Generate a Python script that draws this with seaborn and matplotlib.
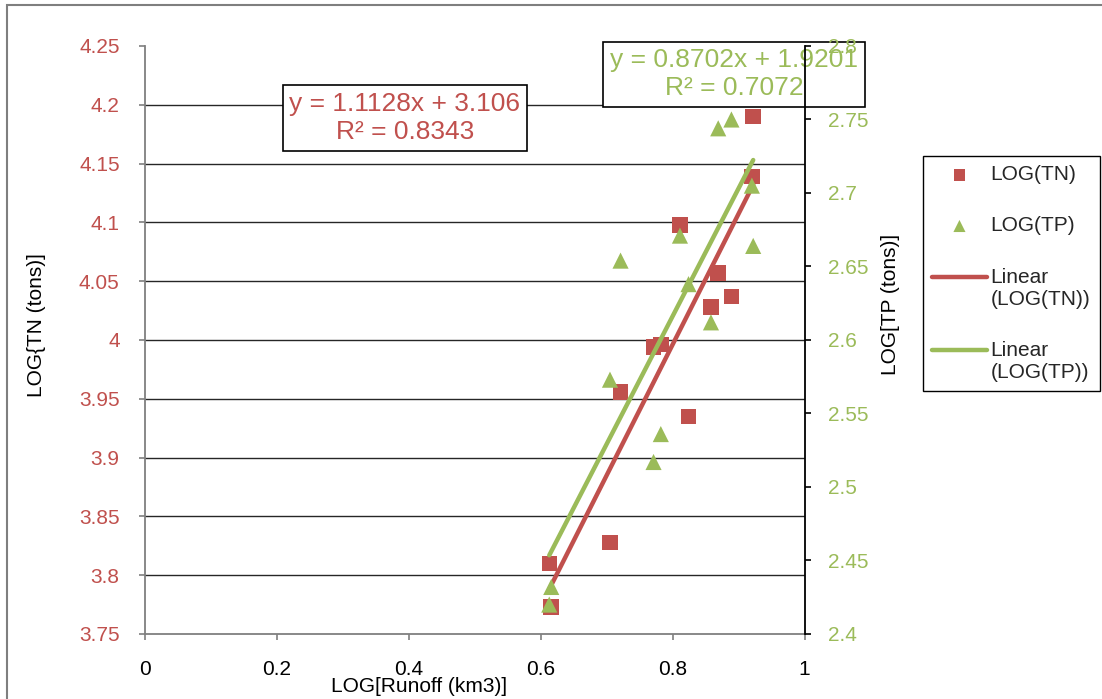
import matplotlib
matplotlib.use("Agg")
import matplotlib.pyplot as plt
import matplotlib.patches as mpatches
from matplotlib.legend_handler import HandlerLine2D
from matplotlib.ticker import FuncFormatter
import numpy as np
import pandas as pd
import seaborn as sns

# Annual log-runoff against log nitrogen / phosphorus loads
runoff_log = [0.613, 0.616, 0.705, 0.721, 0.771, 0.782, 0.811,
              0.824, 0.858, 0.869, 0.889, 0.920, 0.922]
tn_log = [3.810, 3.773, 3.828, 3.956, 3.994, 3.996, 4.098,
          3.935, 4.028, 4.057, 4.037, 4.139, 4.190]
tp_log = [2.420, 2.432, 2.573, 2.654, 2.517, 2.536, 2.671,
          2.638, 2.612, 2.744, 2.750, 2.705, 2.664]

# Linear trend coefficients (slope, intercept, R²)
tn_fit = (1.1128, 3.106, 0.8343)
tp_fit = (0.8702, 1.9201, 0.7072)

x_ticks = [0, 0.2, 0.4, 0.6, 0.8, 1]
tn_ticks = [3.75, 3.8, 3.85, 3.9, 3.95, 4.0, 4.05, 4.1, 4.15, 4.2, 4.25]
tp_ticks = [2.4, 2.45, 2.5, 2.55, 2.6, 2.65, 2.7, 2.75, 2.8]

RED = "#C0504D"
GREEN = "#9BBB59"

sns.set_style("white")
plt.rcParams["font.family"] = ["Liberation Sans", "DejaVu Sans"]


class RaisedLineHandler(HandlerLine2D):
    """Line handle lifted so it sits beside the first line of a two-line label."""

    def __init__(self, lift, **kw):
        super().__init__(**kw)
        self.lift = lift

    def create_artists(self, legend, orig_handle, xdescent, ydescent,
                       width, height, fontsize, trans):
        artists = super().create_artists(legend, orig_handle, xdescent,
                                         ydescent, width, height, fontsize,
                                         trans)
        for a in artists:
            a.set_ydata(np.asarray(a.get_ydata(), float) + self.lift * fontsize)
        return artists


df = pd.DataFrame({"runoff": runoff_log, "tn": tn_log, "tp": tp_log})
xr = np.array([min(runoff_log), max(runoff_log)])
trend = pd.DataFrame({"x": xr,
                      "tn": tn_fit[0] * xr + tn_fit[1],
                      "tp": tp_fit[0] * xr + tp_fit[1]})

fig = plt.figure(figsize=(11.02, 6.99), dpi=100)
ax = fig.add_axes([0.1313, 0.0930, 0.5989, 0.8412])
ax2 = ax.twinx()

sns.scatterplot(data=df, x="runoff", y="tn", ax=ax, marker="s", s=125,
                color=RED, edgecolor="none", label="LOG(TN)", legend=False,
                zorder=3)
sns.lineplot(data=trend, x="x", y="tn", ax=ax, color=RED, lw=3.2,
             label="Linear\n(LOG(TN))", legend=False, zorder=4)
sns.scatterplot(data=df, x="runoff", y="tp", ax=ax2, marker="^", s=135,
                color=GREEN, edgecolor="none", label="LOG(TP)", legend=False,
                zorder=3)
sns.lineplot(data=trend, x="x", y="tp", ax=ax2, color=GREEN, lw=3.2,
             label="Linear\n(LOG(TP))", legend=False, zorder=4)

fmt = FuncFormatter(lambda v, p: f"{v:g}")

ax.set_xlim(0, 1)
ax.set_ylim(3.75, 4.25)
ax2.set_ylim(2.4, 2.8)
ax.set_xticks(x_ticks)
ax.set_yticks(tn_ticks)
ax2.set_yticks(tp_ticks)
for a in (ax, ax2):
    a.xaxis.set_major_formatter(fmt)
    a.yaxis.set_major_formatter(fmt)

# horizontal grid at the inner TN ticks
for v in tn_ticks[1:-1]:
    ax.axhline(v, color="#262626", lw=1.0, zorder=1)

for a in (ax, ax2):
    for s in a.spines.values():
        s.set_visible(False)
ax.spines["left"].set_visible(True)
ax.spines["left"].set_color("#7f7f7f")
ax.spines["bottom"].set_visible(True)
ax.spines["bottom"].set_color("#7f7f7f")
ax2.spines["right"].set_visible(True)
ax2.spines["right"].set_color("black")
for s in ("left", "bottom"):
    ax.spines[s].set_linewidth(1.3)
ax2.spines["right"].set_linewidth(1.3)

ax.tick_params(axis="x", direction="out", length=4.5, width=1.2,
               color="#7f7f7f", labelsize=15, labelcolor="black", pad=14.5,
               bottom=True)
ax.tick_params(axis="y", direction="out", length=4.5, width=1.2,
               color="#7f7f7f", labelsize=15, labelcolor=RED, pad=13.5,
               left=True)
ax2.tick_params(axis="y", direction="out", length=4.5, width=1.2,
                color="black", labelsize=15, labelcolor=GREEN, pad=12,
                right=True)

ax.set_xlabel("LOG[Runoff (km3)]", fontsize=15, color="black")
ax.set_ylabel("LOG{TN (tons)]", fontsize=15, color="black")
ax2.set_ylabel("LOG[TP (tons)]", fontsize=15, color="black")
ax.xaxis.set_label_coords(0.4156, -0.073)
ax.yaxis.set_label_coords(-0.149, 0.525)
ax2.yaxis.set_label_coords(1.115, 0.56)

# regression equations
box = dict(boxstyle="square,pad=0.26", fc="white", ec="black", lw=1.2)
ax.text(0.3675, 0.8312,
        f"y = {tn_fit[0]:.4f}x + {tn_fit[1]:g}\nR² = {tn_fit[2]:.4f}",
        transform=fig.transFigure, ha="center", va="center",
        multialignment="center", fontsize=19, color=RED, bbox=box,
        zorder=5, linespacing=1.18)
ax.text(0.666, 0.894,
        f"y = {tp_fit[0]:.4f}x + {tp_fit[1]:g}\nR² = {tp_fit[2]:.4f}",
        transform=fig.transFigure, ha="center", va="center",
        multialignment="center", fontsize=19, color=GREEN, bbox=box,
        zorder=5, linespacing=1.18)

h1, l1 = ax.get_legend_handles_labels()
h2, l2 = ax2.get_legend_handles_labels()
handles = [h1[0], h2[0], h1[1], h2[1]]
labels = [l1[0], l2[0], l1[1], l2[1]]
raised = RaisedLineHandler(0.55)
leg = fig.legend(handles, labels, loc="upper left",
                 bbox_to_anchor=(923 / 1102, 1 - 156 / 699),
                 borderaxespad=0, fontsize=15, frameon=True, fancybox=False,
                 edgecolor="black", framealpha=1, labelspacing=1.54,
                 handlelength=2.6, handletextpad=0.2, borderpad=0.45,
                 markerscale=0.75,
                 handler_map={handles[2]: raised, handles[3]: raised})
leg.get_frame().set_linewidth(1.0)

# chart-area outline
fig.patches.append(mpatches.Rectangle((7 / 1102, -0.02), 1.1, 1 - 5 / 699 + 0.02,
                                      transform=fig.transFigure, fill=False,
                                      ec="#7f7f7f", lw=1.5))

fig.savefig("out.png", dpi=100)
